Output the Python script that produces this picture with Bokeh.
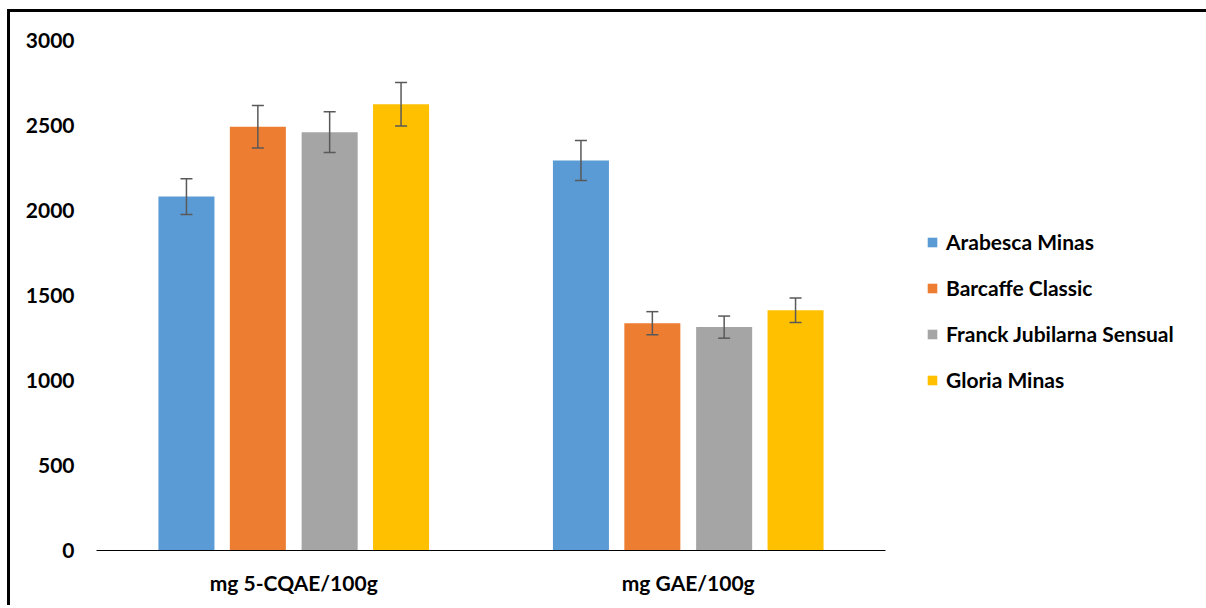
from bokeh.plotting import figure
from bokeh.models import (ColumnDataSource, FactorRange, Range1d, Whisker, TeeHead,
                          Legend, LegendItem, SingleIntervalTicker)
from bokeh.transform import dodge
from bokeh.embed import file_html
from bokeh.resources import INLINE

categories = ["mg 5-CQAE/100g", "mg GAE/100g"]
series = ["Arabesca Minas", "Barcaffe Classic", "Franck Jubilarna Sensual", "Gloria Minas"]
values = {
    "Arabesca Minas": [2082, 2294],
    "Barcaffe Classic": [2492, 1337],
    "Franck Jubilarna Sensual": [2461, 1314],
    "Gloria Minas": [2625, 1413],
}
errors = {
    "Arabesca Minas": [105, 118],
    "Barcaffe Classic": [125, 68],
    "Franck Jubilarna Sensual": [120, 65],
    "Gloria Minas": [128, 72],
}
colors = ["#5B9BD5", "#ED7D31", "#A5A5A5", "#FFC000"]
offsets = [-0.272, -0.091, 0.091, 0.272]

FONT = "Lato"
FS = "21px"

p = figure(x_range=FactorRange(*categories, range_padding=0), y_range=Range1d(0, 3000),
           frame_width=789, frame_height=510, output_backend="svg", toolbar_location=None,
           min_border_left=86, min_border_right=320, min_border_top=28, min_border_bottom=55)
p.styles = {"margin-left": "7px", "margin-top": "9px",
            "border-left": "3px solid black", "border-top": "3px solid black"}
p.outline_line_color = None
p.xgrid.grid_line_color = None
p.ygrid.grid_line_color = None

items = []
for s, c, off in zip(series, colors, offsets):
    v = values[s]
    e = errors[s]
    src = ColumnDataSource(dict(cat=categories, val=v,
                                upper=[a + b for a, b in zip(v, e)],
                                lower=[a - b for a, b in zip(v, e)]))
    r = p.vbar(x=dodge("cat", off, range=p.x_range), top="val", width=0.142, source=src,
               fill_color=c, line_color=None)
    w = Whisker(source=src, base=dodge("cat", off, range=p.x_range), upper="upper", lower="lower",
                line_color="#595959", line_width=1.5, level="overlay",
                upper_head=TeeHead(size=12, line_color="#595959", line_width=1.5),
                lower_head=TeeHead(size=12, line_color="#595959", line_width=1.5))
    p.add_layout(w)
    items.append(LegendItem(label=s, renderers=[r]))

legend = Legend(items=items, location=(41, 158), orientation="vertical",
                glyph_width=12, glyph_height=12, label_height=24, spacing=21,
                label_standoff=8, padding=0, margin=0, border_line_color=None,
                background_fill_alpha=0,
                label_text_font=FONT, label_text_font_style="bold",
                label_text_font_size=FS, label_text_color="black")
p.add_layout(legend, "right")

p.yaxis.ticker = SingleIntervalTicker(interval=500)
p.yaxis.axis_line_color = None
p.yaxis.major_tick_line_color = None
p.yaxis.minor_tick_line_color = None
p.yaxis.major_tick_out = 0
p.yaxis.major_tick_in = 0
p.yaxis.minor_tick_out = 0
p.yaxis.major_label_standoff = 22
p.yaxis.major_label_text_font = FONT
p.yaxis.major_label_text_font_style = "bold"
p.yaxis.major_label_text_font_size = FS
p.yaxis.major_label_text_color = "black"

p.xaxis.axis_line_color = "black"
p.xaxis.axis_line_width = 1.2
p.xaxis.major_tick_line_color = None
p.xaxis.minor_tick_line_color = None
p.xaxis.major_tick_out = 0
p.xaxis.major_tick_in = 0
p.xaxis.minor_tick_out = 0
p.xaxis.major_label_standoff = 19
p.xaxis.major_label_text_font = FONT
p.xaxis.major_label_text_font_style = "bold"
p.xaxis.major_label_text_font_size = FS
p.xaxis.major_label_text_color = "black"

open("out.html", "w").write(file_html(p, INLINE))
